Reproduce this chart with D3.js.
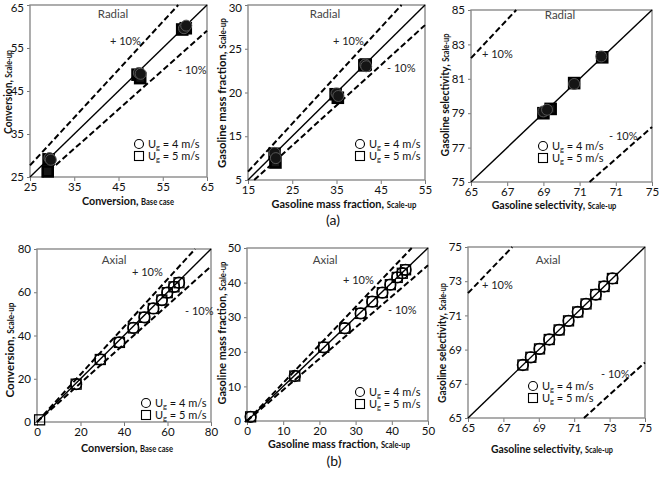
<!DOCTYPE html>
<html><head><meta charset="utf-8">
<script src="https://cdn.jsdelivr.net/npm/d3@7/dist/d3.min.js"></script>
<style>
body{margin:0;background:#fff}
svg{display:block}
text{font-family:Lato,"Open Sans",sans-serif}
</style>
</head><body>
<svg id="chart" width="659" height="481"></svg>
<script>
// ---------------- DATA ----------------
// (a) Radial — Conversion
const radConvX4 = [29.4, 29.7, 49.6, 50.0, 59.8, 60.3];
const radConvY4 = [29.4, 29.0, 49.2, 49.0, 59.6, 60.2];
const radConvX5 = [29.2, 29.0, 49.3, 49.9, 59.4, 60.2];
const radConvY5 = [29.1, 26.3, 48.8, 48.0, 59.3, 59.6];
// (a) Radial — Gasoline mass fraction
const radGasX4 = [21.0, 21.3, 35.0, 35.4, 41.5, 41.7];
const radGasY4 = [13.1, 12.5, 19.9, 19.6, 23.2, 23.0];
const radGasX5 = [21.0, 21.2, 34.8, 35.3, 41.3, 41.6];
const radGasY5 = [13.0, 12.0, 19.8, 19.4, 23.1, 23.2];
// (a) Radial — Gasoline selectivity
const radSelX4 = [69.0, 69.2, 70.7, 72.2];
const radSelY4 = [79.1, 79.2, 80.7, 82.3];
const radSelX5 = [69.0, 69.4, 70.7, 72.25];
const radSelY5 = [79.0, 79.25, 80.75, 82.25];
// (b) Axial — Conversion
const axConvX4 = [18.0, 29.1, 37.9, 44.3, 49.4, 53.5, 57.4, 59.9, 63.0, 65.3];
const axConvY4 = [17.5, 28.9, 36.8, 43.5, 48.4, 52.5, 56.4, 59.8, 62.5, 64.4];
const axConvX5 = [1.2, 18.0, 29.1, 37.9, 44.3, 49.4, 53.5, 57.4, 59.9, 63.0, 65.3];
const axConvY5 = [1.0, 17.5, 28.9, 36.8, 43.5, 48.4, 52.5, 56.4, 59.8, 62.5, 64.4];
// (b) Axial — Gasoline mass fraction
const axGasX4 = [1.0, 13.2, 21.2, 27.0, 31.4, 34.6, 37.4, 39.6, 41.5, 42.9, 43.8];
const axGasY4 = [1.2, 13.0, 21.3, 26.8, 31.1, 34.5, 37.1, 39.4, 41.5, 42.7, 43.7];
const axGasX5 = [1.0, 13.2, 21.2, 27.0, 31.4, 34.6, 37.4, 39.6, 41.5, 42.9, 43.8];
const axGasY5 = [1.2, 13.0, 21.3, 26.8, 31.1, 34.5, 37.1, 39.4, 41.5, 42.7, 43.7];
// (b) Axial — Gasoline selectivity
const axSelX4 = [68.10, 68.55, 69.04, 69.59, 70.15, 70.68, 71.20, 71.67, 72.22, 72.69, 73.16];
const axSelY4 = [68.10, 68.55, 69.04, 69.59, 70.15, 70.68, 71.20, 71.67, 72.22, 72.69, 73.16];
const axSelX5 = [68.10, 68.55, 69.04, 69.59, 70.15, 70.68, 71.20, 71.67, 72.22, 72.69, 73.16];
const axSelY5 = [68.10, 68.55, 69.04, 69.59, 70.15, 70.68, 71.20, 71.67, 72.22, 72.69, 73.16];

// ±10% guide lines (end points, data units)
const radConvPlus = [[25, 27.7], [58.5, 65]], radConvMinus = [[27.8, 25], [65, 59]];
const radGasPlus = [[15, 10.95], [49.7, 30]], radGasMinus = [[16.4, 10], [55, 27.7]];
const radSelPlus = [[65, 82.2], [67.5, 85]], radSelMinus = [[71.55, 75], [75, 78.2]];
const axConvPlus = [[0, 0], [72.7, 80]], axConvMinus = [[0, 0], [80, 72]];
const axGasPlus = [[0, 0], [45.5, 50]], axGasMinus = [[0, 0], [50, 45]];
const axSelPlus = [[65, 72.3], [67.5, 75]], axSelMinus = [[71.55, 65], [75, 68.25]];

// ticks and tick labels
const convRadTicks = [25, 35, 45, 55, 65];
const gasRadXTicks = [15, 25, 35, 45, 55];
const gasRadYTicks = [10, 15, 20, 25, 30];
const gasRadYLabels = ["5", "15", "20", "25", "30"];
const selXTicks = [65, 67, 69, 71, 73, 75];
const selXLabelsRad = ["65", "67", "69", "71", "71", "75"];
const selXLabelsAx = ["65", "67", "69", "71", "73", "75"];
const selRadYTicks = [75, 77, 79, 81, 83, 85];
const selAxYTicks = [65, 67, 69, 71, 73, 75];
const convAxTicks = [0, 20, 40, 60, 80];
const gasAxTicks = [0, 10, 20, 30, 40, 50];

const legendLabels = ["4 m/s", "5 m/s"];

// ---------------- LAYOUT ----------------
const panels = [
  {box:[30,207,5,177], xDom:[25,65], yDom:[25,65], xT:convRadTicks, yT:convRadTicks,
   x4:radConvX4,y4:radConvY4,x5:radConvX5,y5:radConvY5, plus:radConvPlus, minus:radConvMinus,
   radial:true, title:"Radial", titleXY:[113,18],
   xlab:["Conversion,","Base case"], xlabXY:[128,205,92], ylab:["Conversion,","Scale-up"], ylabXY:[12,92,84],
   plusXY:[110,45], minusXY:[178,74], legXY:[139,144]},
  {box:[248,425,5,180], xDom:[15,55], yDom:[10,30], xT:gasRadXTicks, yT:gasRadYTicks, yL:gasRadYLabels,
   x4:radGasX4,y4:radGasY4,x5:radGasX5,y5:radGasY5, plus:radGasPlus, minus:radGasMinus,
   radial:true, title:"Radial", titleXY:[325,18],
   xlab:["Gasoline mass fraction,","Scale-up"], xlabXY:[344,208,145], ylab:["Gasoline mass fraction,","Scale-up"], ylabXY:[226,93,150],
   plusXY:[333,45], minusXY:[387,72], legXY:[360,144]},
  {box:[471,652,10,182], xDom:[65,75], yDom:[75,85], xT:selXTicks, xL:selXLabelsRad, yT:selRadYTicks,
   x4:radSelX4,y4:radSelY4,x5:radSelX5,y5:radSelY5, plus:radSelPlus, minus:radSelMinus,
   radial:true, title:"Radial", titleXY:[560,19],
   xlab:["Gasoline selectivity,","Scale-up"], xlabXY:[554,209,125], ylab:["Gasoline selectivity,","Scale-up"], ylabXY:[449,95,123],
   plusXY:[482,58], minusXY:[609,140], legXY:[543,146]},
  {box:[37,211,249,422], xDom:[0,80], yDom:[0,80], xT:convAxTicks, yT:convAxTicks,
   x4:axConvX4,y4:axConvY4,x5:axConvX5,y5:axConvY5, plus:axConvPlus, minus:axConvMinus,
   radial:false, title:"Axial", titleXY:[114,264],
   xlab:["Conversion,","Base case"], xlabXY:[127,452,92], ylab:["Conversion,","Scale-up"], ylabXY:[14,350,95],
   plusXY:[132,276], minusXY:[185,315], legXY:[146,403]},
  {box:[247,428,248,421], xDom:[0,50], yDom:[0,50], xT:gasAxTicks, yT:gasAxTicks,
   x4:axGasX4,y4:axGasY4,x5:axGasX5,y5:axGasY5, plus:axGasPlus, minus:axGasMinus,
   radial:false, title:"Axial", titleXY:[325,264],
   xlab:["Gasoline mass fraction,","Scale-up"], xlabXY:[339,448,142], ylab:["Gasoline mass fraction,","Scale-up"], ylabXY:[226,333,143],
   plusXY:[343,284], minusXY:[388,314], legXY:[360,392]},
  {box:[468,645,247,418], xDom:[65,75], yDom:[65,75], xT:selXTicks, xL:selXLabelsAx, yT:selAxYTicks,
   x4:axSelX4,y4:axSelY4,x5:axSelX5,y5:axSelY5, plus:axSelPlus, minus:axSelMinus,
   radial:false, title:"Axial", titleXY:[548,264],
   xlab:["Gasoline selectivity,","Scale-up"], xlabXY:[552,453,122], ylab:["Gasoline selectivity,","Scale-up"], ylabXY:[446,343,120],
   plusXY:[482,289], minusXY:[601,378], legXY:[533,386]}
];

const svg = d3.select("#chart");
svg.append("rect").attr("width",659).attr("height",481).attr("fill","#fff");

function labelWithSub(g, parts, pos, rotate) {
  const [x, y, w] = pos;
  const t = g.append("text").attr("text-anchor","middle").attr("font-weight","bold")
    .attr("font-size",12).attr("fill","#111").attr("x",0).attr("y",0);
  t.append("tspan").text(parts[0] + " ");
  t.append("tspan").attr("font-size",8.5).text(parts[1]);
  const natural = t.node().getComputedTextLength();
  const s = natural > 0 ? w / natural : 1;
  t.attr("transform", `translate(${x},${y})` + (rotate ? " rotate(-90)" : "") + ` scale(${s},1)`);
}

panels.forEach(p => {
  const g = svg.append("g");
  const [x0,x1,y0,y1] = p.box;
  const x = d3.scaleLinear().domain(p.xDom).range([x0,x1]);
  const y = d3.scaleLinear().domain(p.yDom).range([y1,y0]);

  const xa = d3.axisBottom(x).tickValues(p.xT).tickSize(4).tickPadding(2)
    .tickFormat((d,i) => p.xL ? p.xL[i] : d);
  const ya = d3.axisLeft(y).tickValues(p.yT).tickSize(3).tickPadding(3)
    .tickFormat((d,i) => p.yL ? p.yL[i] : d);
  const gx = g.append("g").attr("transform",`translate(0,${y1})`).call(xa);
  const gy = g.append("g").attr("transform",`translate(${x0},0)`).call(ya);
  [gx,gy].forEach(a => {
    a.select(".domain").remove();
    a.selectAll(".tick line").attr("stroke","#777");
    a.selectAll(".tick text").attr("font-size",11.5).attr("fill","#111")
      .attr("font-family","Lato, 'Open Sans', sans-serif");
  });
  // keep the topmost y tick label inside the picture
  gy.selectAll(".tick text").each(function() {
    const b = this.getBoundingClientRect();
    if (b.top < 0) d3.select(this).attr("y", -b.top + 0.5);
  });

  g.append("rect").attr("x",x0).attr("y",y0).attr("width",x1-x0).attr("height",y1-y0)
    .attr("fill","none").attr("stroke","#8a8a8a").attr("stroke-width",1.4);

  const line = d3.line().x(d => x(d[0])).y(d => y(d[1]));
  // parity line
  g.append("path").attr("d", line([[p.xDom[0],p.yDom[0]],[p.xDom[1],p.yDom[1]]]))
    .attr("stroke","#000").attr("stroke-width",1.4).attr("fill","none");
  [p.plus, p.minus].forEach(l => {
    g.append("path").attr("d", line(l)).attr("stroke","#000").attr("stroke-width",2)
      .attr("stroke-dasharray","6,3").attr("fill","none");
  });

  const sw = p.radial ? 2.6 : 1.3;
  const fill = p.radial ? "#151515" : "none";
  // squares (5 m/s)
  g.selectAll("rect.s5").data(p.x5.map((v,i)=>[v,p.y5[i]])).join("rect").attr("class","s5")
    .attr("x",d=>x(d[0])-5).attr("y",d=>y(d[1])-5).attr("width",10).attr("height",10)
    .attr("fill",fill).attr("stroke","#000").attr("stroke-width",sw);
  // circles (4 m/s)
  g.selectAll("circle.c4").data(p.x4.map((v,i)=>[v,p.y4[i]])).join("circle").attr("class","c4")
    .attr("cx",d=>x(d[0])).attr("cy",d=>y(d[1])).attr("r",5.5)
    .attr("fill",fill).attr("stroke",p.radial ? "#555" : "#000").attr("stroke-width",p.radial ? 1 : sw);

  // titles
  g.append("text").attr("x",p.titleXY[0]).attr("y",p.titleXY[1]).attr("text-anchor","middle")
    .attr("font-size",11.5).attr("fill","#444").text(p.title);
  g.append("text").attr("x",p.plusXY[0]).attr("y",p.plusXY[1]).attr("font-size",11)
    .attr("fill","#222").text("+ 10%");
  g.append("text").attr("x",p.minusXY[0]).attr("y",p.minusXY[1]).attr("font-size",11)
    .attr("fill","#222").text("- 10%");

  // legend
  const [lx,ly] = p.legXY;
  g.append("circle").attr("cx",lx).attr("cy",ly).attr("r",4.5).attr("fill","none")
    .attr("stroke","#000").attr("stroke-width",1.1);
  g.append("rect").attr("x",lx-4.5).attr("y",ly+7.5).attr("width",9).attr("height",9)
    .attr("fill","none").attr("stroke","#000").attr("stroke-width",1.1);
  legendLabels.forEach((lab,i) => {
    const t = g.append("text").attr("x",lx+9).attr("y",ly+4+i*12).attr("font-size",11).attr("fill","#111");
    t.append("tspan").text("U");
    t.append("tspan").attr("font-size",7.5).attr("dy",2).text("g");
    t.append("tspan").attr("dy",-2).text(" = " + lab);
  });

  labelWithSub(g, p.xlab, p.xlabXY, false);
  labelWithSub(g, p.ylab, p.ylabXY, true);
});

svg.append("text").attr("x",333).attr("y",225).attr("text-anchor","middle").attr("font-size",14)
  .attr("fill","#111").text("(a)");
svg.append("text").attr("x",334).attr("y",466).attr("text-anchor","middle").attr("font-size",14)
  .attr("fill","#111").text("(b)");
</script>
</body></html>
